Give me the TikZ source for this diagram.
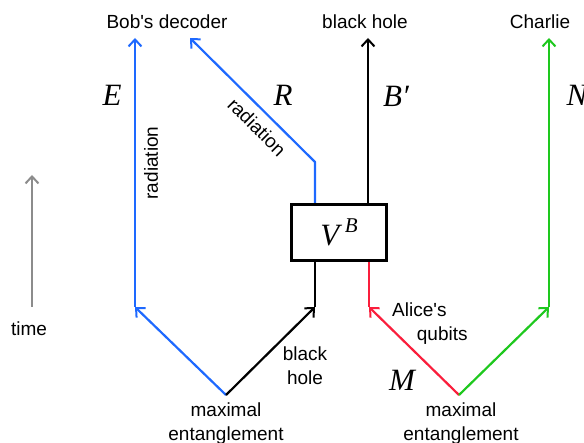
\documentclass[tikz,border=0pt]{standalone}
\usepackage{fontspec}
\setsansfont{Liberation Sans}
\newfontfamily\symfont{Liberation Serif}
\usetikzlibrary{arrows.meta}

\begin{document}
\begin{tikzpicture}[x=1pt, y=-1pt,
  wire/.style={line width=2.2pt, line join=round},
  tip/.style={-{Straight Barb[length=7pt,width=13pt,line width=2pt]}},
  lbl/.style={font=\fontsize{19}{24}\selectfont\sffamily,
              inner sep=1pt, align=center},
  sym/.style={font=\fontsize{31}{31}\selectfont\symfont\itshape,
              inner sep=1pt}]

\definecolor{radclr}{RGB}{30,105,255}
\definecolor{aliceclr}{RGB}{250,30,60}
\definecolor{charlieclr}{RGB}{30,200,30}
\colorlet{timeclr}{black!45}

\useasboundingbox (0,0) rectangle (584,443);

% ---- (1) fixed points: entangled pairs, kinks, arrow ends -------
\coordinate (entL)  at (226,395);
\coordinate (entR)  at (459,395);
\coordinate (eMid)  at (135,307);
\coordinate (bhMid) at (315,307);
\coordinate (amMid) at (369,307);
\coordinate (nMid)  at (549,307);
\coordinate (rKink) at (315,162);
\coordinate (eEnd)  at (135,38);
\coordinate (rEnd)  at (190,38);
\coordinate (bpEnd) at (368,38);
\coordinate (nEnd)  at (549,38);
\coordinate (tBot)  at (32,307);
\coordinate (tTop)  at (32,175);

% ---- (2) the unitary box ----------------------------------------
\node[draw, line width=3pt, minimum width=95pt, minimum height=56pt,
      sym, inner sep=0pt] (VB) at (339,232.5)
      {V\hspace{0.18em}\raisebox{0.42em}{\fontsize{21}{21}\selectfont B}};

% ---- (3) end labels and wire names ------------------------------
\node[lbl] (bob)     at (167,22) {Bob\textquotesingle s decoder};
\node[lbl] (bhTop)   at (365,22) {black hole};
\node[lbl] (charlie) at (540,22) {Charlie};

\node[sym] (symE)  at (112,95)  {E};
\node[sym] (symR)  at (283,95)  {R};
\node[sym] (symBp) at (396,96)  {B′};
\node[sym] (symN)  at (577,95)  {N};
\node[sym] (symM)  at (402,380) {M};

\node[lbl, rotate=90]  (radE) at (151,163) {radiation};
\node[lbl, rotate=-45] (radR) at (257,127) {radiation};
\node[lbl] (bhBot)  at (305,366) {black\\hole};
\node[lbl, anchor=west, align=left] (alice) at (391,324)
      {Alice\textquotesingle s\\\hspace*{1.3em}qubits};
\node[lbl] (maxL) at (226,424) {maximal\\entanglement};
\node[lbl] (maxR) at (461,424) {maximal\\entanglement};
\node[lbl] (time) at (29,329) {time};

% ---- (4) wires ----------------------------------------------------
\draw[wire, radclr, tip] (entL) -- (eMid);
\draw[wire, radclr, tip] (eMid) -- (eEnd);
\draw[wire, tip] (entL) -- (bhMid);
\draw[wire] (bhMid) -- (VB.south -| bhMid);

\draw[wire, radclr, tip] (VB.north -| rKink) -- (rKink) -- (rEnd);
\draw[wire, tip] (VB.north -| bpEnd) -- (bpEnd);

\draw[wire, aliceclr, tip] (entR) -- (amMid);
\draw[wire, aliceclr] (amMid) -- (VB.south -| amMid);
\draw[wire, charlieclr, tip] (entR) -- (nMid);
\draw[wire, charlieclr, tip] (nMid) -- (nEnd);

% ---- (5) time direction -----------------------------------------
\draw[wire, timeclr, tip] (tBot) -- (tTop);

\end{tikzpicture}
\end{document}
